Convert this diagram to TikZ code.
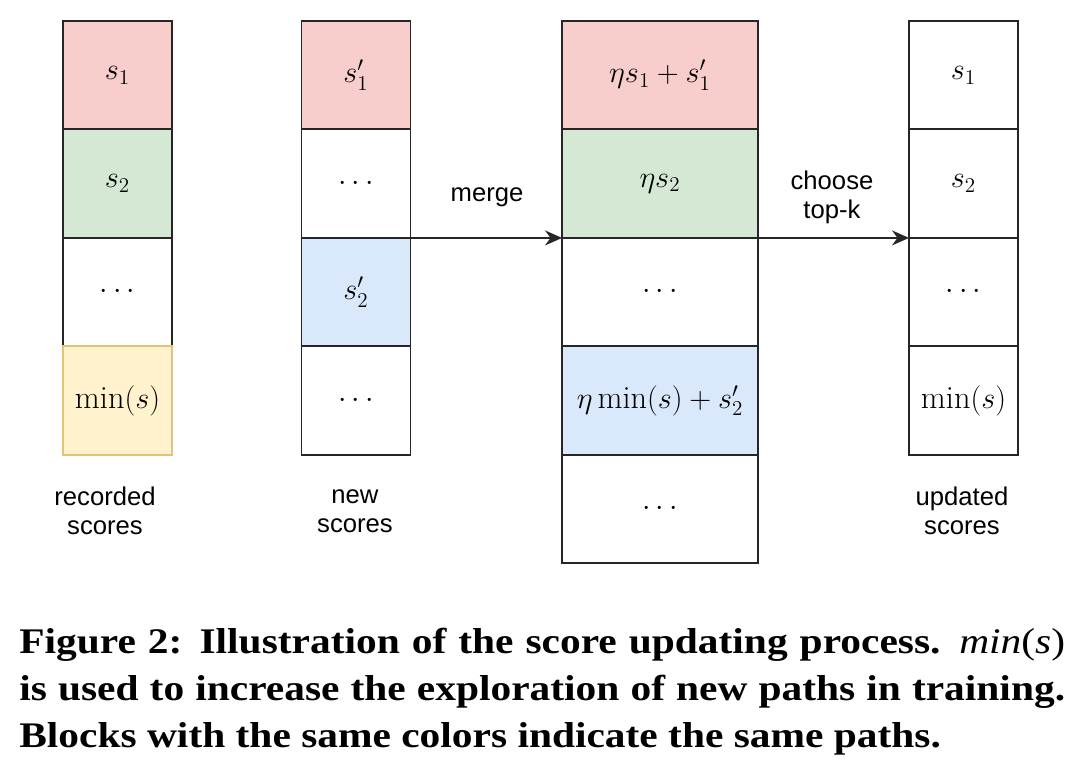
\documentclass[tikz,border=0pt]{standalone}
\usepackage{fontspec}
\newfontfamily\labelfont{Liberation Sans}
\newfontfamily\capfont[FakeStretch=1.15]{Liberation Serif}
\usetikzlibrary{positioning}
\usetikzlibrary{arrows.meta}
\definecolor{pred}{HTML}{F8CECC}
\definecolor{pgreen}{HTML}{D5E8D4}
\definecolor{pblue}{HTML}{DAE8FC}
\definecolor{pyellow}{HTML}{FFF2CC}
\definecolor{ystroke}{HTML}{E0C47A}
\tikzset{
    cell/.style = {rectangle, draw=black!85, line width=1.1pt, minimum width=2.18cm, minimum height=2.17cm, inner sep=0pt, outer sep=0pt, fill=white, font=\fontsize{18.4}{22}\selectfont},
    wcell/.style = {cell, minimum width=3.92cm},
    cellr/.style = {cell, fill=pred},
    cellg/.style = {cell, fill=pgreen},
    cellb/.style = {cell, fill=pblue},
    celly/.style = {cell, fill=pyellow, draw=ystroke},
    edgen/.style = {-{Stealth[length=0.34cm,width=0.3cm]}, line width=1pt, black!85},
    lbl/.style = {align=center, inner sep=0pt, font=\labelfont\fontsize{14.6}{16.5}\selectfont},
    caption/.style = {anchor=north west, text width=20.92cm, align=justify, inner sep=0pt, font=\capfont\bfseries\fontsize{20.5}{26.7}\selectfont}
}
\begin{document}
\begin{tikzpicture}[x=0.02cm,y=-0.02cm]
\path[use as bounding box] (0,0) rectangle (1080,771);
%
\node[cellr] at (117.5,75.2) (r1) {$s_1$};
\node[cellg, below=0pt of r1] (r2) {$s_2$};
\node[cell, below=0pt of r2] (r3) {$\cdots$};
\node[celly, below=0pt of r3] (r4) {$\min(s)$};
%
\node[cellr] at (356,75.2) (n1) {$s_1'$};
\node[cell, below=0pt of n1] (n2) {$\cdots$};
\node[cellb, below=0pt of n2] (n3) {$s_2'$};
\node[cell, below=0pt of n3] (n4) {$\cdots$};
%
\node[wcell, fill=pred] at (660,75.2) (m1) {$\eta s_1 + s_1'$};
\node[wcell, fill=pgreen, below=0pt of m1] (m2) {$\eta s_2$};
\node[wcell, below=0pt of m2] (m3) {$\cdots$};
\node[wcell, fill=pblue, below=0pt of m3] (m4) {$\eta\min(s) + s_2'$};
\node[wcell, below=0pt of m4] (m5) {$\cdots$};
%
\node[cell] at (963.5,75.2) (u1) {$s_1$};
\node[cell, below=0pt of u1] (u2) {$s_2$};
\node[cell, below=0pt of u2] (u3) {$\cdots$};
\node[cell, below=0pt of u3] (u4) {$\min(s)$};
%
\draw[edgen] (n2.south east) -- (m2.south west);
\draw[edgen] (m2.south east) -- (u2.south west);
%
\node[lbl] at (487,197) (merge) {merge};
\node[lbl] at (832,197) (topk) {choose\\top-k};
\node[lbl] at (105,511) (rlbl) {recorded\\scores};
\node[lbl] at (355,511) (nlbl) {new\\scores};
\node[lbl] at (962,511) (ulbl) {updated\\scores};
%
\node[caption] at (19,628) (cap) {Figure 2: Illustration of the score updating process. {\mdseries\itshape min}{\mdseries(}{\mdseries\itshape s}{\mdseries)}\break is used to increase the exploration of new paths in training.\break Blocks with the same colors indicate the same paths.};

\end{tikzpicture}
\end{document}
